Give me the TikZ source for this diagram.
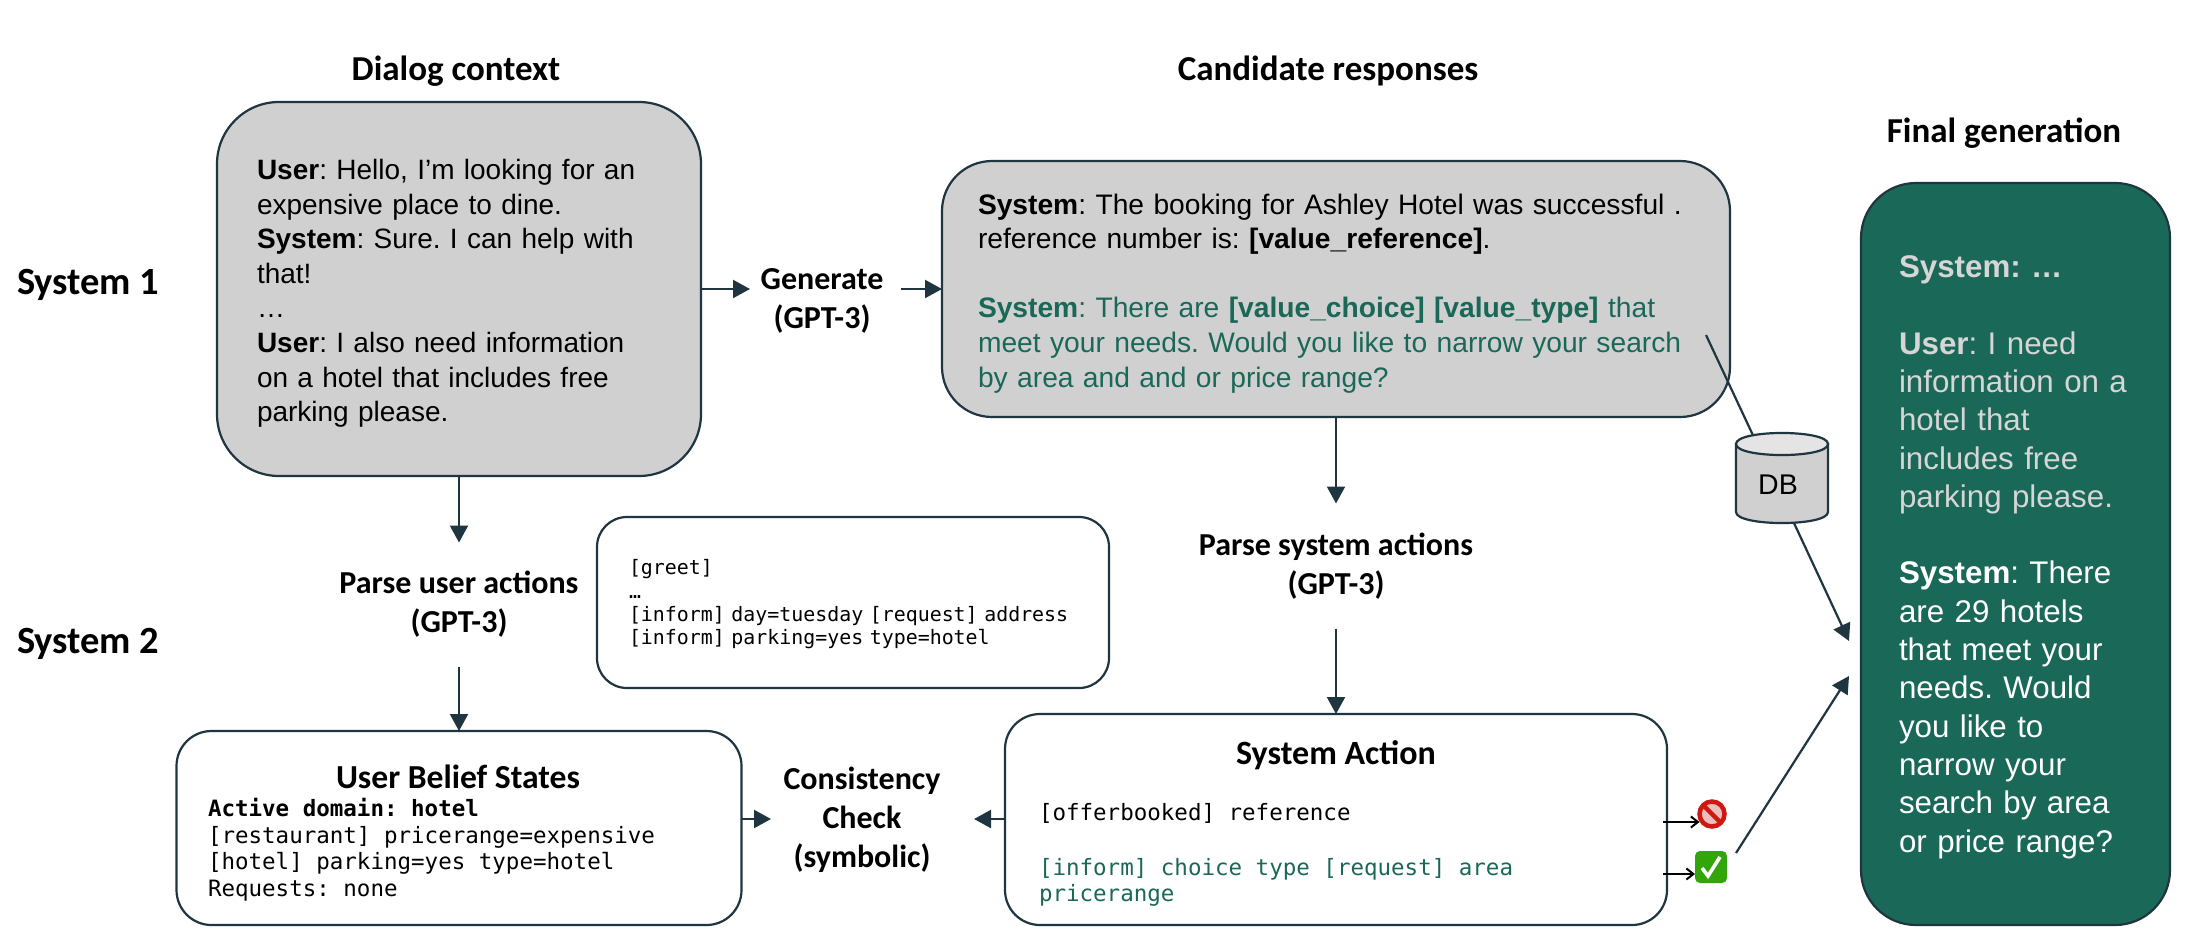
\documentclass[tikz,border=0pt]{standalone}
\usepackage{fontspec}
\setmainfont{Liberation Sans}
\setmonofont{DejaVu Sans Mono}
\newfontfamily\carl{Carlito}
\usetikzlibrary{arrows.meta,calc}
\definecolor{ink}{HTML}{1F3540}
\definecolor{boxgray}{HTML}{D0D0D0}
\definecolor{topgray}{HTML}{E4E4E4}
\definecolor{teal}{HTML}{1A6858}
\definecolor{pale}{HTML}{D6D6D6}
\definecolor{nored}{HTML}{CD190F}
\definecolor{nopink}{HTML}{EBBEBE}
\definecolor{yesgreen}{HTML}{32A50A}
\pgfdeclarelayer{front}
\pgfsetlayers{main,front}
\tikzset{
  x=1pt,y=-1pt,
  every node/.style={inner sep=0pt,outer sep=0pt},
  box/.style={draw=ink,line width=2.2pt,rounded corners=#1},
  box/.default=35pt,
  flow/.style={draw=ink,line width=2.2pt,-{Triangle[length=17pt,width=18pt]}},
  plain/.style={draw=ink,line width=2.2pt},
  tiny arrow/.style={draw=black,line width=2pt,-{Straight Barb[length=7pt,width=11pt,line width=2pt]}},
  head/.style={font=\carl\bfseries\fontsize{32}{39}\selectfont,align=center,text=black},
  title/.style={font=\carl\bfseries\fontsize{35}{42}\selectfont,align=center,text=black},
  body/.style={font=\frenchspacing\fontsize{28}{34.6}\selectfont,align=left,text=black},
  code/.style={font=\ttfamily\fontsize{22.5}{26.7}\selectfont,align=left,text=black},
}
\begin{document}
\begin{tikzpicture}
\useasboundingbox (0,0) rectangle (2188,946);
% main boxes
\node[box=62pt,fill=boxgray,body,minimum width=484pt,minimum height=374pt,text width=404pt,inner xsep=40pt] (dialog) at (459,289)
 {\rule{0pt}{29pt}\textbf{User}: Hello, I’m looking for an\\expensive place to dine.\\\textbf{System}: Sure. I can help with\\that!\\…\\\textbf{User}: I also need information\\on a hotel that includes free\\parking please.};
\node[box=50pt,fill=boxgray,body,font=\frenchspacing\fontsize{28.2}{34.6}\selectfont,minimum width=788pt,minimum height=256pt,text width=716pt,inner xsep=36pt] (cand) at (1336,289)
 {\rule{0pt}{29pt}\textbf{System}: The booking for Ashley Hotel was successful .\\reference number is: \textbf{[value\_reference]}.\\[34.6pt]\textcolor{teal}{\textbf{System}: There are \textbf{[value\_choice] [value\_type]} that}\\\textcolor{teal}{meet your needs. Would you like to narrow your search}\\\textcolor{teal}{by area and and or price range?}};
\node[box=55pt,fill=teal,font=\frenchspacing\fontsize{31.3}{38.3}\selectfont,align=left,text=white,minimum width=309pt,minimum height=742pt,text width=233pt,inner xsep=38pt] (final) at (2015.5,554)
 {\rule{0pt}{28pt}\textcolor{pale}{\textbf{System: …}}\\[38.3pt]\textcolor{pale}{\textbf{User}: I need}\\\textcolor{pale}{information on a}\\\textcolor{pale}{hotel that}\\\textcolor{pale}{includes free}\\\textcolor{pale}{parking please.}\\[38.3pt]\textbf{System}: There\\are 29 hotels\\that meet your\\needs. Would\\you like to\\narrow your\\search by area\\or price range?};
\node[box=30pt,fill=white,font=\ttfamily\fontsize{19.9}{23}\selectfont,align=left,text=black,minimum width=512pt,minimum height=171pt,text width=448pt,inner xsep=32pt] (inform) at (853,602.5)
 {\rule{0pt}{19pt}[greet]\\[1pt]…\\\relax[inform] day=tuesday [request] address\\\relax[inform] parking=yes type=hotel};
\node[box,fill=white,minimum width=565pt,minimum height=194pt] (belief) at (459,828) {};
\node[box,fill=white,minimum width=662pt,minimum height=211pt] (sysact) at (1336,819.5) {};
% box contents
\node[head,font=\carl\bfseries\fontsize{33.6}{40}\selectfont] (belieftitle) at (458,777) {User Belief States};
\node[code,anchor=north west] (beliefbody) at (208,798)
 {\textbf{Active domain: hotel}\\\relax[restaurant] pricerange=expensive\\\relax[hotel] parking=yes type=hotel\\Requests: none};
\node[head,font=\carl\bfseries\fontsize{34}{40}\selectfont] (acttitle) at (1336,755) {System Action};
\node[code,anchor=west] (actone) at (1039,813) {[offerbooked] reference};
\node[code,anchor=north west,text=teal] (acttwo) at (1039,858) {[inform] choice type [request] area\\pricerange};
% headings and labels
\node[title] (h1) at (456,71) {Dialog context};
\node[title] (h2) at (1328,71) {Candidate responses};
\node[title] (h3) at (2004,133) {Final generation};
\node[title,font=\carl\bfseries\fontsize{38.5}{45}\selectfont,anchor=west] (s1) at (17,285) {System 1};
\node[title,font=\carl\bfseries\fontsize{38.5}{45}\selectfont,anchor=west] (s2) at (17,644) {System 2};
\node[head,minimum width=148pt] (gen) at (822,301) {Generate\\(GPT-3)};
\coordinate (genL) at (750,289);
\coordinate (genR) at (901,289);
\node[head,minimum height=124pt,minimum width=270pt] (puser) at (459,604.5) {Parse user actions\\(GPT-3)};
\node[head,minimum height=125pt,minimum width=300pt] (psys) at (1336,566) {Parse system actions\\(GPT-3)};
\node[head] (cons) at (862,820) {Consistency\\Check\\(symbolic)};
\coordinate (consL) at (771,819);
\coordinate (consR) at (974,819);
% DB
\node[minimum width=92pt,minimum height=90pt] (db) at (1782,478) {};
\begin{pgfonlayer}{front}
\draw[plain,fill=boxgray] (1736,444) -- (1736,512) .. controls (1736,526.7) and (1828,526.7) .. (1828,512) -- (1828,444) -- cycle;
\draw[plain,fill=topgray] (1736,444) .. controls (1736,429.3) and (1828,429.3) .. (1828,444) .. controls (1828,458.7) and (1736,458.7) .. (1736,444) -- cycle;
\node[font=\fontsize{28.5}{30}\selectfont,text=black] (dblabel) at (1778,485) {DB};
\end{pgfonlayer}
% connectors
\draw[flow] (dialog.east) -- (genL);
\draw[flow] (genR) -- (cand.west);
\draw[flow] (dialog.south) -- (puser.north -| dialog.south);
\draw[flow] (puser.south) -- (belief.north);
\draw[flow] (cand.south) -- (psys.north);
\draw[flow] (psys.south) -- (sysact.north);
\draw[flow] (belief.east |- consL) -- (consL);
\draw[flow] (sysact.west |- consR) -- (consR);
\coordinate (dbstart) at (1706,335);
\coordinate (finalin) at (1849,641);
\coordinate (finalin2) at (1849,676);
\coordinate (dbpass) at ($(db.center)+(-9,0)$);
\draw[plain] (dbstart) -- (dbpass);
\draw[flow] (dbpass) -- (finalin);
% emoji marks
\node[circle,draw=nored,line width=4.5pt,fill=nopink,minimum size=25pt] (no) at (1712,814) {};
\draw[nored,line width=4.5pt] (no.135) -- (no.315);
\node[rounded corners=5pt,fill=yesgreen,minimum size=32pt] (yes) at (1711,867) {};
\draw[white,line width=3.6pt] ($(yes.center)+(-9,1)$) -- ($(yes.center)+(-3,9)$) -- ($(yes.center)+(9,-10)$);
\coordinate (noA) at (1663,822);
\coordinate (yesA) at (1663,874);
\draw[tiny arrow] (noA) -- (noA -| no.west);
\draw[tiny arrow] (yesA) -- (yesA -| yes.west);
\coordinate (yesout) at (1736,853);
\draw[flow] (yesout) -- (finalin2);
\end{tikzpicture}
\end{document}
